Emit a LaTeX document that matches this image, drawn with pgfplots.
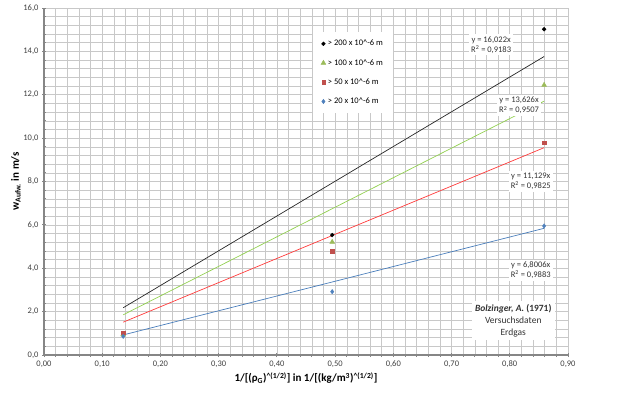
\documentclass[border=0pt]{standalone}
\usepackage{pgfplots}
\pgfplotsset{compat=1.18}
\usepackage{fontspec}
\setmainfont{Carlito}
\definecolor{gridc}{HTML}{C8C8C8}
\definecolor{axc}{HTML}{868686}
\definecolor{mblue}{HTML}{4F81BD}
\definecolor{mred}{HTML}{C0504D}
\definecolor{mgreen}{HTML}{9BBB59}
\definecolor{lgreen}{HTML}{92D050}
\definecolor{lred}{HTML}{FF3B3B}
\definecolor{lblue}{HTML}{4A7EBB}
\begin{document}
\begin{tikzpicture}
\begin{axis}[
  scale only axis, width=524pt, height=347pt,
  xmin=0, xmax=0.9, ymin=0, ymax=16,
  axis lines=left, axis line style={-, axc, line width=1.6pt},
  xtick={0,0.1,...,0.9}, ytick={0,2,...,16},
  minor x tick num=4, minor y tick num=4,
  grid=both, major grid style={gridc, line width=0.6pt}, minor grid style={gridc, line width=0.5pt},
  tick align=center, major tick length=4pt, minor tick length=3pt,
  tick style={axc, line width=0.8pt},
  xticklabel style={/pgf/number format/.cd, fixed, fixed zerofill, precision=2, use comma},
  yticklabel style={/pgf/number format/.cd, fixed, fixed zerofill, precision=1, use comma},
  /pgf/number format/assume math mode=true,
  ticklabel style={font=\fontsize{8.5}{10}\selectfont, text=black!75},
  xlabel={\textbf{1/[(ρ\textsubscript{G})\textsuperscript{\^{}(1/2)}] in 1/[(kg/m\textsuperscript{3})\textsuperscript{\^{}(1/2)}]}},
  ylabel={\textbf{w\textsubscript{Aufw.} in m/s}},
  label style={font=\fontsize{11}{13}\selectfont},
  xlabel style={yshift=2pt},
  ylabel style={yshift=-4pt},
  clip=false,
  legend style={at={(0.513,0.931)}, anchor=north west, draw=none, fill=white,
    font=\fontsize{8.5}{10}\selectfont, row sep=8pt, inner xsep=8pt, inner ysep=6pt},
  legend cell align=left,
]
\path (axis cs:-0.0756,-2.029) rectangle (axis cs:0.9842,16.37);
% trend lines
\addplot[black!85, line width=0.7pt, forget plot] coordinates {(0.136,2.179) (0.859,13.763)};
\addplot[lgreen, line width=0.7pt, forget plot] coordinates {(0.136,1.853) (0.859,11.705)};
\addplot[lred, line width=0.7pt, forget plot] coordinates {(0.136,1.514) (0.859,9.560)};
\addplot[lblue, line width=0.7pt, forget plot] coordinates {(0.136,0.925) (0.859,5.842)};
% data
\addplot[only marks, mark=*, mark size=1.9pt, black] coordinates {(0.136,1.0) (0.495,5.53) (0.859,15.02)};
\addlegendentry{> 200 x 10\^{}-6 m}
\addplot[only marks, mark=triangle*, mark size=2.8pt, mgreen] coordinates {(0.136,0.95) (0.495,5.21) (0.859,12.45)};
\addlegendentry{> 100 x 10\^{}-6 m}
\addplot[only marks, mark=square*, mark size=1.7pt, mred] coordinates {(0.136,1.02) (0.495,4.79) (0.859,9.79)};
\addlegendentry{> 50 x 10\^{}-6 m}
\addplot[only marks, mark=diamond*, mark size=2.2pt, mblue] coordinates {(0.136,0.86) (0.495,2.92) (0.859,5.95)};
\addlegendentry{> 20 x 10\^{}-6 m}
% labels
\begin{scope}[every node/.style={fill=white, font=\fontsize{8.5}{10}\selectfont, align=center, inner sep=2pt, text=black!80}]
\node at (axis cs:0.768,14.3) {y = 16,022x\\R\textsuperscript{2} = 0,9183};
\node at (axis cs:0.816,11.5) {y = 13,626x\\R\textsuperscript{2} = 0,9507};
\node at (axis cs:0.836,8.0) {y = 11,129x\\R\textsuperscript{2} = 0,9825};
\node at (axis cs:0.836,3.9) {y = 6,8006x\\R\textsuperscript{2} = 0,9883};
\node[font=\fontsize{9.5}{12}\selectfont, inner sep=3pt] at (axis cs:0.806,1.6) {\textbf{\textit{Bolzinger, A.} (1971)}\\Versuchsdaten\\Erdgas};
\end{scope}
\end{axis}
\end{tikzpicture}
\end{document}
